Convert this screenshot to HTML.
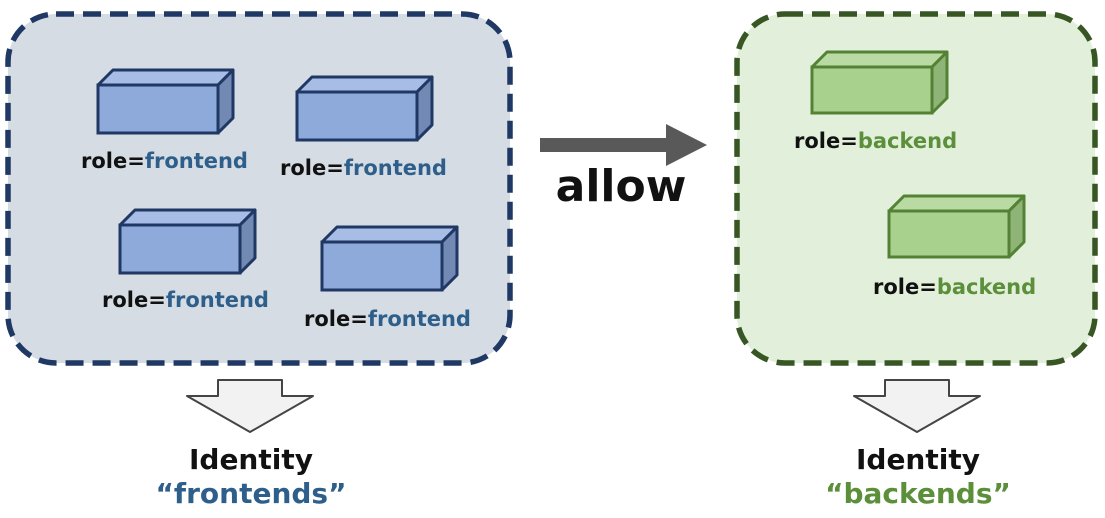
<!DOCTYPE html>
<html><head><meta charset="utf-8"><style>
html,body{margin:0;padding:0;background:#fff;}
svg text{font-family:"DejaVu Sans","Liberation Sans",sans-serif;font-weight:bold;}
</style></head><body>
<svg width="1105" height="513" viewBox="0 0 1105 513" xmlns="http://www.w3.org/2000/svg">
<defs>
<g id="bb">
  <polygon points="0,15 15,0 135,0 120,15" fill="#a7bde6" stroke="#1f3864" stroke-width="3" stroke-linejoin="round"/>
  <polygon points="120,15 135,0 135,48 120,63" fill="#7289b4" stroke="#1f3864" stroke-width="3" stroke-linejoin="round"/>
  <rect x="0" y="15" width="120" height="48" fill="#8eaadb" stroke="#1f3864" stroke-width="3"/>
</g>
<g id="gb">
  <polygon points="0,15 15,0 135,0 120,15" fill="#b9dba3" stroke="#548235" stroke-width="3" stroke-linejoin="round"/>
  <polygon points="120,15 135,0 135,46 120,61" fill="#8fb478" stroke="#548235" stroke-width="3" stroke-linejoin="round"/>
  <rect x="0" y="15" width="120" height="46" fill="#a9d18e" stroke="#548235" stroke-width="3"/>
</g>
</defs>
<rect x="8" y="14" width="502" height="349" rx="48" fill="#d6dce4" stroke="#1f3864" stroke-width="5.5" stroke-dasharray="18,9"/>
<rect x="737" y="14" width="358" height="349" rx="48" fill="#e2efda" stroke="#375623" stroke-width="5.5" stroke-dasharray="18,9"/>
<use href="#bb" x="98" y="70"/>
<use href="#bb" x="297" y="77"/>
<use href="#bb" x="120" y="210"/>
<use href="#bb" x="322" y="227"/>
<use href="#gb" x="812" y="52"/>
<use href="#gb" x="889" y="196"/>
<g font-size="21">
<text x="81" y="168"><tspan fill="#111">role=</tspan><tspan fill="#2e5f8a">frontend</tspan></text>
<text x="280" y="175"><tspan fill="#111">role=</tspan><tspan fill="#2e5f8a">frontend</tspan></text>
<text x="102" y="307"><tspan fill="#111">role=</tspan><tspan fill="#2e5f8a">frontend</tspan></text>
<text x="304" y="326"><tspan fill="#111">role=</tspan><tspan fill="#2e5f8a">frontend</tspan></text>
<text x="794" y="148"><tspan fill="#111">role=</tspan><tspan fill="#5b8f3a">backend</tspan></text>
<text x="873" y="294"><tspan fill="#111">role=</tspan><tspan fill="#5b8f3a">backend</tspan></text>
</g>
<polygon points="540,138 666,138 666,124 707,145 666,166 666,152 540,152" fill="#595959"/>
<text x="621" y="201" font-size="44" text-anchor="middle" fill="#111">allow</text>
<polygon points="218,380 282,380 282,396 313,396 250,432 187,396 218,396" fill="#f2f2f2" stroke="#444" stroke-width="2" stroke-linejoin="round"/>
<polygon points="885,380 949,380 949,396 980,396 917,432 854,396 885,396" fill="#f2f2f2" stroke="#444" stroke-width="2" stroke-linejoin="round"/>
<g font-size="28" text-anchor="middle">
<text x="251" y="469" fill="#111">Identity</text>
<text x="251" y="503" fill="#2e5f8a">“frontends”</text>
<text x="918" y="469" fill="#111">Identity</text>
<text x="918" y="503" fill="#5b8f3a">“backends”</text>
</g>
</svg>
</body></html>
